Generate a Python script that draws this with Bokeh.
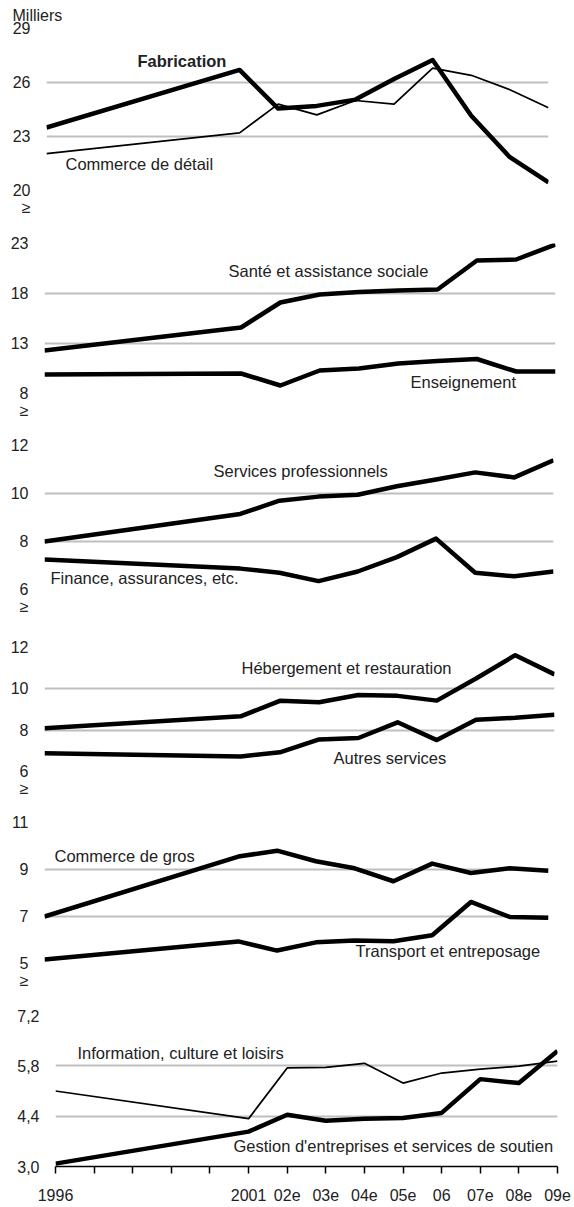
from bokeh.plotting import figure
from bokeh.layouts import column, row
from bokeh.models import Range1d, FixedTicker, Label, CustomJSTickFormatter
from bokeh.embed import file_html
from bokeh.resources import INLINE

# ---- data -------------------------------------------------------------
years = [1996, 2001, 2002, 2003, 2004, 2005, 2006, 2007, 2008, 2009]
tick_years = list(range(1996, 2010))
tick_labels = ["1996", "", "", "", "", "2001", "02e", "03e", "04e", "05e", "06", "07e", "08e", "09e"]

fabrication = [23.5, 26.7, 24.55, 24.7, 25.05, 26.2, 27.25, 24.15, 21.85, 20.45]
commerce_detail = [22.05, 23.2, 24.8, 24.2, 25.0, 24.8, 26.8, 26.4, 25.6, 24.6]

sante = [12.3, 14.6, 17.1, 17.9, 18.15, 18.3, 18.4, 21.3, 21.4, 22.9]
enseignement = [9.9, 10.0, 8.8, 10.3, 10.5, 11.0, 11.25, 11.45, 10.2, 10.2]

services_pro = [8.0, 9.15, 9.7, 9.87, 9.95, 10.3, 10.58, 10.88, 10.67, 11.38]
finance = [7.25, 6.87, 6.7, 6.35, 6.75, 7.35, 8.12, 6.7, 6.55, 6.75]

hebergement = [8.09, 8.67, 9.42, 9.35, 9.7, 9.66, 9.43, 10.5, 11.63, 10.7]
autres = [6.88, 6.73, 6.93, 7.55, 7.62, 8.38, 7.52, 8.5, 8.6, 8.75]

commerce_gros = [7.0, 9.55, 9.8, 9.35, 9.05, 8.5, 9.25, 8.85, 9.05, 8.95]
transport = [5.17, 5.94, 5.55, 5.9, 5.98, 5.95, 6.2, 7.62, 6.98, 6.95]

information = [5.1, 4.33, 5.74, 5.76, 5.87, 5.32, 5.6, 5.71, 5.79, 5.93]
gestion = [3.08, 3.97, 4.44, 4.27, 4.33, 4.35, 4.49, 5.43, 5.32, 6.21]

# ---- styling ----------------------------------------------------------
FONT = "Liberation Sans"
TXT = "#222222"
GRID = "#bfbfbf"
FS = "16.5px"
TFS = "16px"
THICK = 4.5
THIN = 1.75
W = 574

panels = [
    dict(ymin=20, ymax=29, ticks=[20, 23, 26, 29], T=28, B=190, L=46, R=548, top=0, bottom=216,
         series=[(commerce_detail, THIN), (fabrication, THICK)],
         labels=[("Fabrication", 137, 60, "bold"), ("Commerce de détail", 65, 163, "normal")],
         brk=True, dec=False),
    dict(ymin=8, ymax=23, ticks=[8, 13, 18, 23], T=243, B=393, L=44, R=555, top=216, bottom=418,
         series=[(sante, THICK), (enseignement, THICK)],
         labels=[("Santé et assistance sociale", 228, 270, "normal"), ("Enseignement", 410, 381, "normal")],
         brk=True, dec=False),
    dict(ymin=6, ymax=12, ticks=[6, 8, 10, 12], T=445, B=589, L=44, R=553, top=418, bottom=618,
         series=[(services_pro, THICK), (finance, THICK)],
         labels=[("Services professionnels", 213, 470, "normal"), ("Finance, assurances, etc.", 50, 577, "normal")],
         brk=True, dec=False),
    dict(ymin=6, ymax=12, ticks=[6, 8, 10, 12], T=647, B=771, L=44, R=554, top=618, bottom=796,
         series=[(hebergement, THICK), (autres, THICK)],
         labels=[("Hébergement et restauration", 241, 667, "normal"), ("Autres services", 333, 757, "normal")],
         brk=True, dec=False),
    dict(ymin=5, ymax=11, ticks=[5, 7, 9, 11], T=822, B=963, L=44, R=548, top=796, bottom=990,
         series=[(commerce_gros, THICK), (transport, THICK)],
         labels=[("Commerce de gros", 54, 855, "normal"), ("Transport et entreposage", 355, 950, "normal")],
         brk=True, dec=False),
    dict(ymin=3.0, ymax=7.2, ticks=[3.0, 4.4, 5.8, 7.2], T=1015, B=1166, L=55, R=557, top=990, bottom=1207,
         series=[(information, THIN), (gestion, THICK)],
         labels=[("Information, culture et loisirs", 77, 1052, "normal"),
                 ("Gestion d'entreprises et services de soutien", 233, 1145, "normal")],
         brk=False, dec=True),
]

YFMT = """
const s = dec ? tick.toFixed(1).replace('.', ',') : tick.toFixed(0);
if (brk && Math.abs(tick - lo) < 1e-9) { return ' \\n' + s + '\\n\u2265'; }
return s;
"""

figs = []
for i, pn in enumerate(panels):
    last = i == len(panels) - 1
    p = figure(width=W, height=pn["bottom"] - pn["top"],
               x_range=Range1d(1996, 2009), y_range=Range1d(pn["ymin"], pn["ymax"]),
               output_backend="svg", toolbar_location=None,
               min_border_top=pn["T"] - pn["top"], min_border_bottom=pn["bottom"] - pn["B"],
               min_border_left=pn["L"], min_border_right=W - pn["R"])
    p.outline_line_color = None
    p.background_fill_color = "white"
    p.border_fill_color = "white"

    def dx(px, pn=pn):
        return 1996 + (px - pn["L"]) / (pn["R"] - pn["L"]) * 13

    def dy(py, pn=pn):
        return pn["ymax"] - (py - pn["T"]) / (pn["B"] - pn["T"]) * (pn["ymax"] - pn["ymin"])

    # y axis
    p.yaxis.ticker = FixedTicker(ticks=pn["ticks"])
    p.yaxis.formatter = CustomJSTickFormatter(args=dict(lo=pn["ymin"], brk=pn["brk"], dec=pn["dec"]),
                                              code=YFMT)
    p.ygrid.ticker = FixedTicker(ticks=pn["ticks"])
    p.ygrid.grid_line_color = GRID
    p.ygrid.grid_line_width = 2
    p.xgrid.visible = False
    p.yaxis.axis_line_color = None
    p.yaxis.major_tick_line_color = None
    p.yaxis.major_tick_out = 0
    p.yaxis.major_tick_in = 0
    p.yaxis.minor_tick_line_color = None
    p.yaxis.minor_tick_out = 0
    p.yaxis.major_label_standoff = 16
    p.yaxis.major_label_text_font = FONT
    p.yaxis.major_label_text_font_size = TFS
    p.yaxis.major_label_text_color = TXT
    p.yaxis.major_label_text_line_height = 1.0
    if last:
        p.xaxis.ticker = FixedTicker(ticks=tick_years)
        p.xaxis.formatter = CustomJSTickFormatter(
            args=dict(yrs=tick_years, labs=tick_labels),
            code="const i = yrs.indexOf(Math.round(tick)); return i >= 0 ? labs[i] : '';")
        p.xaxis.axis_line_color = "black"
        p.xaxis.axis_line_width = 1.5
        p.xaxis.major_tick_line_color = "black"
        p.xaxis.major_tick_line_width = 1.5
        p.xaxis.major_tick_out = 7
        p.xaxis.major_tick_in = 0
        p.xaxis.minor_tick_line_color = None
        p.xaxis.major_label_standoff = 15
        p.xaxis.major_label_text_font = FONT
        p.xaxis.major_label_text_font_size = TFS
        p.xaxis.major_label_text_color = TXT
    else:
        p.xaxis.visible = False

    for vals, w in pn["series"]:
        p.line(years, vals, line_color="black", line_width=w, line_join="round")

    for txt, px, py, weight in pn["labels"]:
        p.add_layout(Label(x=dx(px), y=dy(py), text=txt, text_font=FONT, text_font_size=FS,
                           text_font_style=weight, text_color=TXT,
                           text_align="left", text_baseline="middle"))
    if i == 0:
        p.title.text = "Milliers"
        p.title.align = "left"
        p.title.offset = 12 - pn["L"]
        p.title.standoff = 9
        p.title.text_line_height = 1.0
        p.title.text_font = FONT
        p.title.text_font_size = TFS
        p.title.text_font_style = "normal"
        p.title.text_color = TXT
    figs.append(p)

layout = column(*[row(f) for f in figs], spacing=0)
open("out.html", "w").write(file_html(layout, INLINE))
